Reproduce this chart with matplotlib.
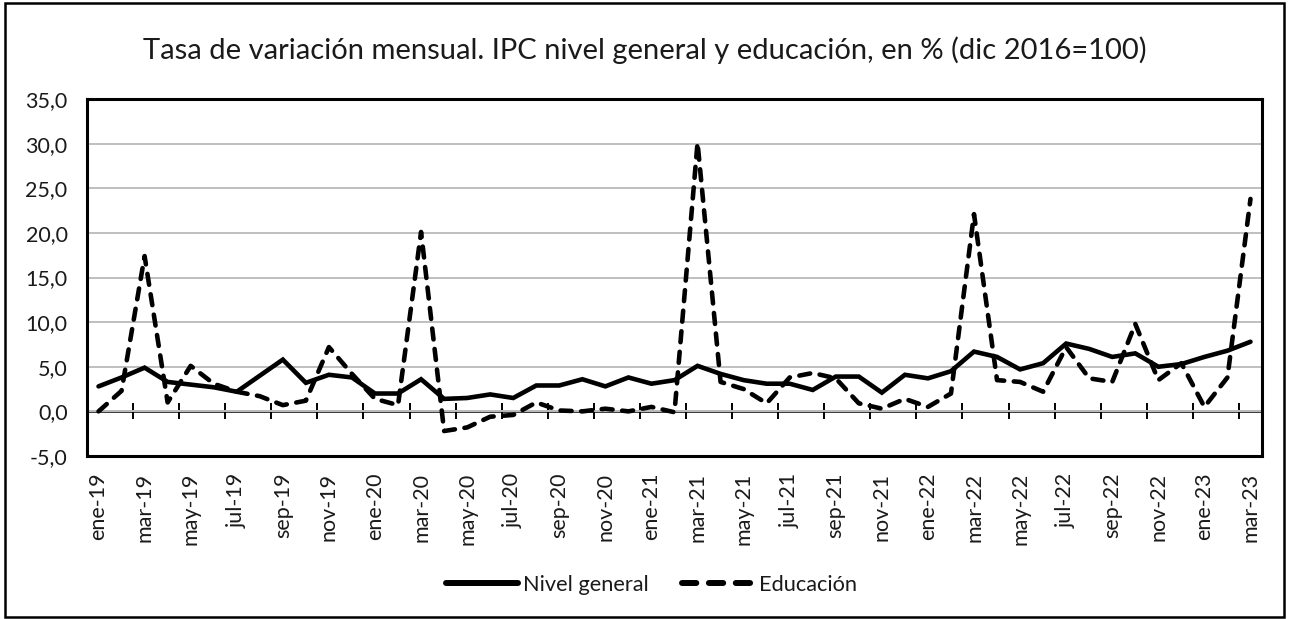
import matplotlib
matplotlib.use("Agg")
import matplotlib.pyplot as plt
from matplotlib.patches import Rectangle
import numpy as np

months = ["ene", "feb", "mar", "abr", "may", "jun", "jul", "ago", "sep", "oct", "nov", "dic"]
years = ["19", "20", "21", "22", "23"]
categories = [f"{m}-{y}" for y in years for m in months][:51]

nivel_general = [2.8, 3.8, 4.9, 3.3, 3.0, 2.7, 2.2, 4.0, 5.8, 3.2, 4.1, 3.8,
                 2.0, 2.0, 3.6, 1.4, 1.5, 1.9, 1.5, 2.9, 2.9, 3.6, 2.8, 3.8,
                 3.1, 3.5, 5.1, 4.2, 3.5, 3.1, 3.1, 2.4, 3.9, 3.9, 2.1, 4.1,
                 3.7, 4.5, 6.7, 6.1, 4.7, 5.4, 7.6, 7.0, 6.1, 6.5, 5.0, 5.3,
                 6.1, 6.8, 7.8]
educacion = [0.0, 2.3, 17.4, 1.0, 5.1, 3.1, 2.2, 1.7, 0.7, 1.2, 7.2, 4.2,
             1.4, 0.7, 20.1, -2.2, -1.8, -0.6, -0.4, 1.0, 0.1, 0.0, 0.3, 0.0,
             0.5, -0.1, 30.1, 3.3, 2.5, 0.9, 3.8, 4.3, 3.7, 0.9, 0.3, 1.4,
             0.5, 2.0, 22.1, 3.5, 3.3, 2.2, 7.2, 3.7, 3.3, 9.8, 3.5, 5.4,
             0.5, 3.8, 23.8]
y_ticks = [-5, 0, 5, 10, 15, 20, 25, 30, 35]
title = "Tasa de variación mensual. IPC nivel general y educación, en % (dic 2016=100)"

plt.rcParams['font.family'] = ['Lato', 'DejaVu Sans']
TXT = "#1a1a1a"

W, H = 1290, 619
fig = plt.figure(figsize=(W / 100, H / 100), dpi=100)
ax = fig.add_axes([87 / W, 1 - 456 / H, (1262 - 87) / W, (456 - 99) / H])

x = np.arange(len(categories))
ax.plot(x, nivel_general, color="black", lw=3.3, solid_joinstyle="miter",
        solid_capstyle="round", label="Nivel general", zorder=3)
ax.plot(x, educacion, color="black", lw=3.3, dashes=(2.4, 2.1),
        dash_capstyle="round", label="Educación", zorder=3)

ax.set_xlim(-0.5, len(categories) - 0.5)
ax.set_ylim(-5, 35)
ax.set_yticks(y_ticks)
ax.set_yticklabels([f"{v:.1f}".replace(".", ",") for v in y_ticks])
ax.yaxis.grid(True, color="#BFBFBF", lw=1.4)
ax.set_axisbelow(True)
ax.tick_params(axis="y", length=0, pad=14, labelsize=15.5, labelcolor=TXT)

ax.set_xticks(x[::2])
ax.set_xticklabels(categories[::2], rotation=90, va="top", ha="center")
ax.tick_params(axis="x", length=0, pad=12, labelsize=15.5, labelcolor=TXT)

for s in ax.spines.values():
    s.set_linewidth(2.2)
    s.set_color("black")

# category axis crossing at zero, with tick marks between categories
sec = ax.secondary_xaxis(0, transform=ax.transData)
sec.set_xticks(np.arange(1.5, len(categories) - 1, 2))
sec.tick_params(axis="x", direction="inout", length=11, width=1.4, labelbottom=False)
sec.spines["bottom"].set_linewidth(1.8)
sec.spines["bottom"].set_color("black")

fig.text(0.5, 1 - 50 / H, title, ha="center", va="center", fontsize=21, color=TXT)

leg = fig.legend(loc="center", bbox_to_anchor=(0.505, 1 - 585 / H), ncol=2,
                 frameon=False, fontsize=15.7, handlelength=3.3, columnspacing=1.5,
                 handletextpad=0.25)
for t in leg.get_texts():
    t.set_color(TXT)
for ln in leg.get_lines():
    ln.set_linewidth(4.3)

fig.patches.append(Rectangle((5 / W, 1 - 617 / H), (1284 - 5) / W, (617 - 3) / H,
                             transform=fig.transFigure, fill=False,
                             edgecolor="black", lw=1.8))

fig.savefig("out.png", dpi=100)
